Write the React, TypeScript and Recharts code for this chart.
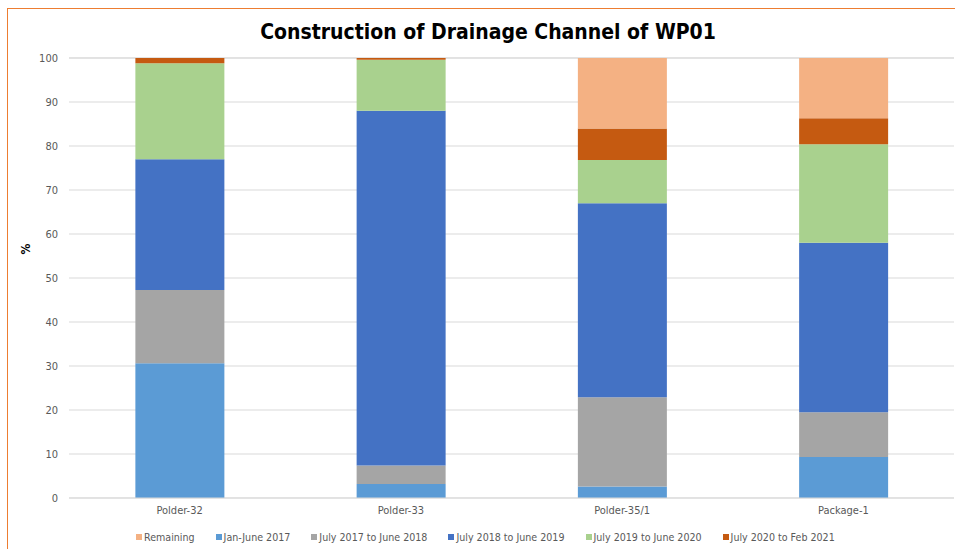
import { BarChart, Bar, XAxis, YAxis, CartesianGrid } from 'recharts';

const categories = ['Polder-32', 'Polder-33', 'Polder-35/1', 'Package-1'];
const jan2017 = [30.6, 3.2, 2.6, 9.3];
const jul2017 = [16.7, 4.2, 20.3, 10.2];
const jul2018 = [29.7, 80.6, 44.1, 38.5];
const jul2019 = [21.8, 11.6, 9.8, 22.4];
const jul2020 = [1.2, 0.4, 7.2, 5.9];
const remaining = [0, 0, 16.0, 13.7];
const yTicks = [0, 10, 20, 30, 40, 50, 60, 70, 80, 90, 100];

// stacking order, bottom to top
const series = [
  { key: 'jan2017', name: 'Jan-June 2017', color: '#5B9BD5', values: jan2017 },
  { key: 'jul2017', name: 'July 2017 to June 2018', color: '#A5A5A5', values: jul2017 },
  { key: 'jul2018', name: 'July 2018 to June 2019', color: '#4472C4', values: jul2018 },
  { key: 'jul2019', name: 'July 2019 to June 2020', color: '#A9D18E', values: jul2019 },
  { key: 'jul2020', name: 'July 2020 to Feb 2021', color: '#C55A11', values: jul2020 },
  { key: 'remaining', name: 'Remaining', color: '#F4B183', values: remaining },
];

// legend lists Remaining first
const legendOrder = ['remaining', 'jan2017', 'jul2017', 'jul2018', 'jul2019', 'jul2020'];

const data = categories.map((name, i) => {
  const row: Record<string, string | number> = { name };
  series.forEach((s) => {
    row[s.key] = s.values[i];
  });
  return row;
});

const font = '"DejaVu Sans Condensed", "DejaVu Sans", sans-serif';
const tick = { fill: '#595959', fontSize: 11, fontFamily: font };

export default function App() {
  return (
    <div
      style={{
        position: 'absolute',
        left: 0,
        top: 0,
        width: 955,
        height: 549,
        background: '#fff',
        overflow: 'hidden',
        fontFamily: font,
      }}
    >
      <div
        style={{
          position: 'absolute',
          left: 7,
          top: 8,
          right: 0,
          bottom: 0,
          borderTop: '1px solid #ED7D31',
          borderLeft: '1px solid #ED7D31',
        }}
      />
      <div
        style={{
          position: 'absolute',
          top: 18,
          left: 0,
          width: 955,
          paddingLeft: 21,
          boxSizing: 'border-box',
          textAlign: 'center',
          fontSize: 21,
          fontWeight: 'bold',
          color: '#000',
          lineHeight: '28px',
        }}
      >
        Construction of Drainage Channel of WP01
      </div>
      <span
        style={{
          position: 'absolute',
          left: 21,
          top: 242,
          fontSize: 12,
          fontWeight: 'bold',
          color: '#000',
          transform: 'rotate(-90deg)',
          lineHeight: '14px',
        }}
      >
        %
      </span>
      <BarChart
        width={955}
        height={549}
        data={data}
        margin={{ top: 58, right: 1, left: 0, bottom: 21 }}
        barCategoryGap="30%"
      >
        <CartesianGrid vertical={false} stroke="#D9D9D9" />
        <XAxis
          dataKey="name"
          height={30}
          tick={tick}
          tickLine={false}
          axisLine={{ stroke: '#D9D9D9' }}
        />
        <YAxis
          width={69}
          domain={[0, 100]}
          ticks={yTicks}
          tick={tick}
          tickLine={false}
          axisLine={false}
          tickMargin={5}
          interval={0}
        />
        {series.map((s) => (
          <Bar
            key={s.key}
            dataKey={s.key}
            name={s.name}
            stackId="a"
            fill={s.color}
            isAnimationActive={false}
          />
        ))}
      </BarChart>
      <div
        style={{
          position: 'absolute',
          left: 136,
          top: 530,
          display: 'flex',
          gap: 21,
          fontSize: 10.6,
          color: '#595959',
          lineHeight: '14px',
          whiteSpace: 'nowrap',
        }}
      >
        {legendOrder.map((k) => {
          const s = series.find((x) => x.key === k)!;
          return (
            <div key={k} style={{ display: 'flex', alignItems: 'center' }}>
              <span
                style={{
                  display: 'inline-block',
                  width: 6,
                  height: 6,
                  background: s.color,
                  marginRight: 2,
                }}
              />
              {s.name}
            </div>
          );
        })}
      </div>
    </div>
  );
}
